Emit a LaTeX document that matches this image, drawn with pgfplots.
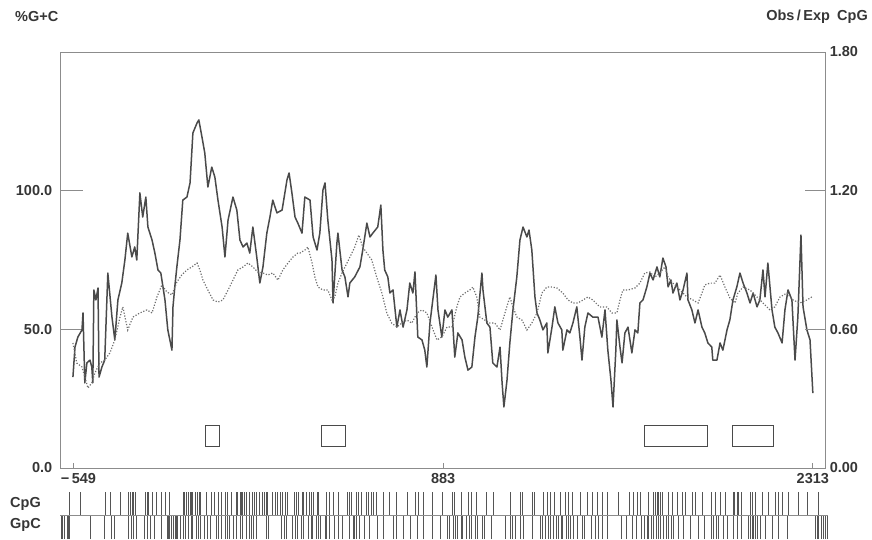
\documentclass[border=0pt]{standalone}
\usepackage{fontspec}
\setmainfont{Liberation Sans}
\usepackage{pgfplots}
\pgfplotsset{compat=1.18}
\definecolor{txt}{HTML}{363636}
\definecolor{axc}{HTML}{8C8C8C}
\definecolor{gcc}{HTML}{4A4A4A}
\definecolor{oec}{HTML}{6E6E6E}
\definecolor{stc}{HTML}{555555}
\definecolor{boxc}{HTML}{4A4A4A}
\tikzset{lab/.style={font=\fontsize{14.5}{17}\selectfont\bfseries, text=txt}}
\begin{document}
\begin{tikzpicture}
\useasboundingbox (0pt,0pt) rectangle (872pt,539pt);
% ---------- main axis: % G+C (left scale) ----------
\begin{axis}[
  at={(60pt,71pt)}, anchor=south west, width=765pt, height=416pt, scale only axis,
  xmin=-599, xmax=2360, ymin=0, ymax=150,
  axis line style={axc, line width=0.8pt},
  xtick=\empty,
  ytick={0,50,100}, yticklabels={0.0,50.0,100.0}, ytick pos=left,
  tick align=inside, major tick length=23pt,
  tick style={axc, line width=0.8pt},
  yticklabel style={lab, xshift=-4.3pt},
]
\addplot[gcc, line width=1.5pt, line join=round, mark=none] coordinates {
(-549,32.8) (-541,43.6) (-530,47.2) (-514,49.8) (-510,55.9) (-503,30.7) (-495,37.9) (-483,38.9)
(-476,36.4) (-472,30.7) (-468,64.2) (-460,60.6) (-452,64.9) (-448,32.8) (-437,36.4) (-426,38.9)
(-414,70.3) (-398,54.4) (-387,46.2) (-375,60.6) (-360,66.7) (-348,75.0) (-337,84.7) (-321,76.1)
(-310,79.7) (-302,75.0) (-290,99.2) (-279,90.5) (-267,97.7) (-259,86.9) (-243,82.2) (-232,77.5)
(-220,71.4) (-209,70.3) (-193,60.6) (-182,49.8) (-166,42.5) (-162,58.1) (-155,65.3) (-147,72.5)
(-135,82.2) (-124,96.6) (-108,97.7) (-96,102.8) (-85,120.8) (-69,124.4) (-62,125.5) (-50,119.4)
(-39,113.6) (-27,101.3) (-12,108.5) (0,104.9) (12,96.6) (28,86.9) (39,76.1) (51,89.4)
(70,97.7) (85,93.0) (97,82.2) (109,79.7) (124,81.1) (135,77.5) (147,86.9) (162,76.1)
(174,66.7) (186,72.5) (201,84.7) (213,90.5) (224,96.6) (240,92.0) (260,93.0) (279,103.9)
(287,106.4) (298,99.2) (310,90.5) (321,88.3) (337,84.7) (348,97.7) (368,96.6) (380,83.3)
(395,78.6) (406,84.7) (418,100.2) (426,102.8) (437,89.4) (453,75.0) (457,59.5) (472,81.1)
(476,84.7) (492,71.4) (503,68.9) (515,61.7) (522,66.7) (541,68.9) (561,72.5) (572,78.6)
(588,88.3) (600,83.3) (611,84.7) (630,86.9) (642,94.8) (650,78.6) (657,71.4) (669,68.9)
(677,63.1) (689,64.2) (704,50.8) (716,57.0) (728,50.8) (743,57.0) (754,66.7) (766,63.1)
(774,70.7) (785,47.2) (801,46.2) (812,42.5) (820,36.4) (832,52.3) (843,60.6) (855,69.6)
(863,57.0) (878,47.2) (890,57.0) (901,54.4) (917,57.0) (928,40.0) (940,48.7) (956,46.2)
(967,40.0) (979,35.3) (994,36.4) (1006,47.2) (1017,54.4) (1033,70.3) (1037,64.2) (1052,52.3)
(1064,50.8) (1075,37.9) (1091,36.4) (1103,43.6) (1111,30.7) (1118,22.0) (1130,31.7) (1141,45.1)
(1153,57.0) (1168,68.9) (1180,82.2) (1192,86.9) (1207,83.3) (1215,85.8) (1226,78.6) (1238,61.7)
(1246,55.9) (1257,53.4) (1269,49.8) (1284,52.3) (1288,41.5) (1304,50.8) (1315,58.1) (1327,52.3)
(1342,49.8) (1346,42.5) (1362,49.8) (1373,48.7) (1385,52.3) (1400,58.1) (1412,47.2) (1420,38.9)
(1431,50.8) (1443,55.9) (1462,54.4) (1482,54.4) (1497,47.2) (1509,57.0) (1520,42.5) (1532,31.7)
(1540,22.0) (1551,42.5) (1555,53.4) (1567,43.6) (1575,37.9) (1586,48.7) (1598,50.8) (1613,41.5)
(1625,49.8) (1636,48.7) (1644,59.5) (1656,60.6) (1671,65.3) (1683,70.3) (1695,67.8) (1710,72.5)
(1721,68.9) (1733,75.7) (1745,72.5) (1753,65.3) (1764,67.8) (1772,63.1) (1787,66.7) (1799,60.6)
(1811,64.2) (1826,70.3) (1830,60.6) (1845,57.0) (1857,52.3) (1869,57.0) (1884,50.8) (1895,48.7)
(1907,45.1) (1922,43.6) (1926,38.9) (1942,38.9) (1954,45.1) (1965,42.5) (1981,49.8) (1992,53.4)
(2004,60.6) (2019,65.3) (2031,70.3) (2043,66.7) (2058,63.1) (2070,59.5) (2082,63.1) (2097,58.1)
(2108,60.6) (2120,71.4) (2128,61.7) (2139,73.9) (2155,57.0) (2166,50.8) (2178,48.7) (2194,45.1)
(2205,57.0) (2217,64.2) (2232,60.6) (2244,38.9) (2255,54.4) (2267,84.0) (2275,58.1) (2290,49.8)
(2302,46.2) (2313,27.0)
};
% CpG island boxes
\addplot[boxc, line width=0.9pt, mark=none, line join=miter] coordinates {(-35,7.6) (19,7.6) (19,15.5) (-35,15.5) (-35,7.6)};
\addplot[boxc, line width=0.9pt, mark=none, line join=miter] coordinates {(414,7.6) (507,7.6) (507,15.5) (414,15.5) (414,7.6)};
\addplot[boxc, line width=0.9pt, mark=none, line join=miter] coordinates {(1663,7.6) (1907,7.6) (1907,15.5) (1663,15.5) (1663,7.6)};
\addplot[boxc, line width=0.9pt, mark=none, line join=miter] coordinates {(2003,7.6) (2162,7.6) (2162,15.5) (2003,15.5) (2003,7.6)};
\end{axis}
% ---------- right axis: Obs/Exp CpG ----------
\begin{axis}[
  at={(60pt,71pt)}, anchor=south west, width=765pt, height=416pt, scale only axis,
  xmin=-599, xmax=2360, ymin=0, ymax=1.8,
  axis x line=none, axis y line*=right,
  axis line style={axc, line width=0.8pt, -},
  xtick=\empty,
  ytick={0,0.6,1.2,1.8}, yticklabels={0.00,0.60,1.20,1.80}, ytick pos=right,
  tick align=inside, major tick length=20pt,
  tick style={axc, line width=0.8pt},
  yticklabel style={lab, xshift=1.3pt},
]
\addplot[oec, line width=1.2pt, dash pattern=on 1.2pt off 1.7pt, mark=none] coordinates {
(-549,0.541) (-534,0.454) (-514,0.437) (-503,0.394) (-491,0.346) (-476,0.368) (-464,0.411) (-445,0.454)
(-426,0.467) (-406,0.498) (-387,0.554) (-367,0.653) (-356,0.697) (-337,0.597) (-317,0.653) (-290,0.671)
(-263,0.684) (-243,0.671) (-224,0.740) (-205,0.792) (-186,0.762) (-166,0.749) (-147,0.805) (-128,0.835)
(-108,0.857) (-89,0.870) (-69,0.887) (-58,0.857) (-46,0.813) (-27,0.770) (-7,0.727) (12,0.718)
(31,0.727) (51,0.770) (70,0.813) (89,0.857) (109,0.870) (128,0.887) (147,0.870) (166,0.848)
(186,0.844) (205,0.835) (224,0.844) (244,0.813) (263,0.857) (283,0.887) (302,0.913) (321,0.930)
(329,0.930) (348,0.943) (360,0.956) (376,0.887) (387,0.826) (399,0.783) (418,0.770) (437,0.770)
(453,0.727) (464,0.740) (476,0.800) (492,0.844) (511,0.887) (530,0.930) (541,0.956) (557,1.008)
(572,0.956) (588,0.930) (607,0.900) (626,0.826) (646,0.757) (665,0.671) (684,0.627) (704,0.610)
(723,0.627) (743,0.640) (762,0.627) (782,0.671) (801,0.684) (820,0.671) (840,0.610) (859,0.554)
(878,0.567) (898,0.610) (917,0.610) (936,0.697) (948,0.740) (967,0.757) (986,0.770) (998,0.783)
(1013,0.740) (1025,0.653) (1044,0.640) (1064,0.627) (1083,0.627) (1103,0.597) (1122,0.671) (1141,0.740)
(1153,0.697) (1168,0.653) (1188,0.640) (1207,0.597) (1226,0.627) (1246,0.671) (1265,0.757) (1284,0.783)
(1304,0.783) (1323,0.779) (1346,0.757) (1366,0.727) (1385,0.714) (1404,0.714) (1424,0.727) (1443,0.740)
(1462,0.727) (1489,0.697) (1516,0.697) (1536,0.671) (1555,0.671) (1567,0.727) (1578,0.770) (1598,0.770)
(1625,0.779) (1644,0.800) (1663,0.844) (1683,0.848) (1702,0.826) (1721,0.844) (1741,0.870) (1753,0.826)
(1772,0.800) (1799,0.770) (1826,0.740) (1849,0.727) (1869,0.714) (1884,0.757) (1895,0.792) (1915,0.800)
(1934,0.800) (1954,0.835) (1973,0.783) (1992,0.736) (2012,0.714) (2023,0.757) (2043,0.783) (2070,0.770)
(2097,0.740) (2120,0.714) (2147,0.684) (2166,0.697) (2186,0.740) (2213,0.757) (2236,0.727) (2263,0.714)
(2290,0.727) (2309,0.740)
};
\end{axis}
% ---------- x ticks ----------
\begin{axis}[
  at={(60pt,71pt)}, anchor=south west, width=765pt, height=416pt, scale only axis,
  xmin=-599, xmax=2360, ymin=0, ymax=1,
  axis x line*=bottom, axis y line=none,
  axis line style={draw=none},
  xtick={-549,883,2313},
  xticklabels={\makebox[0pt][l]{\hspace{-12pt}−\,549},883,2313},
  ytick=\empty,
  tick align=inside, major tick length=5pt,
  tick style={axc, line width=0.8pt},
  xticklabel style={lab, yshift=-1.5pt},
]
\addplot[draw=none, mark=none] coordinates {(0,0.5)};
\end{axis}
% ---------- CpG strip ----------
\begin{axis}[
  at={(60pt,24pt)}, anchor=south west, width=768pt, height=23pt, scale only axis,
  xmin=-599, xmax=2371, ymin=0, ymax=1, hide axis, clip=false,
]
\addplot[ycomb, stc, line width=0.95pt, mark=none] coordinates {
(-561,1) (-518,1) (-422,1) (-402,1) (-364,1) (-333,1) (-325,1) (-317,1) (-314,1) (-306,1) (-267,1) (-259,1)
(-255,1) (-243,1) (-224,1) (-205,1) (-193,1) (-174,1) (-123,1) (-116,1) (-108,1) (-104,1) (-96,1) (-89,1)
(-85,1) (-77,1) (-69,1) (-61,1) (-54,1) (-31,1) (-15,1) (0,1) (12,1) (27,1) (39,1) (50,1) (66,1) (85,1)
(89,1) (97,1) (104,1) (108,1) (116,1) (124,1) (135,1) (147,1) (154,1) (162,1) (174,1) (185,1) (193,1)
(201,1) (205,1) (224,1) (236,1) (243,1) (255,1) (263,1) (274,1) (282,1) (309,1) (317,1) (325,1) (337,1)
(344,1) (356,1) (364,1) (375,1) (383,1) (395,1) (402,1) (433,1) (445,1) (457,1) (476,1) (511,1) (519,1)
(530,1) (549,1) (557,1) (568,1) (588,1) (595,1) (607,1) (615,1) (626,1) (650,1) (677,1) (704,1) (743,1)
(774,1) (786,1) (805,1) (840,1) (882,1) (917,1) (928,1) (952,1) (982,1) (994,1) (1013,1) (1052,1) (1079,1)
(1142,1) (1180,1) (1188,1) (1227,1) (1234,1) (1269,1) (1285,1) (1296,1) (1315,1) (1335,1) (1354,1) (1369,1)
(1381,1) (1412,1) (1439,1) (1462,1) (1478,1) (1497,1) (1520,1) (1559,1) (1605,1) (1617,1) (1636,1) (1644,1)
(1675,1) (1695,1) (1702,1) (1710,1) (1714,1) (1722,1) (1729,1) (1753,1) (1768,1) (1787,1) (1807,1) (1818,1)
(1845,1) (1857,1) (1884,1) (1922,1) (1934,1) (1957,1) (1973,1) (2004,1) (2011,1) (2019,1) (2023,1) (2038,1)
(2070,1) (2078,1) (2089,1) (2116,1) (2140,1) (2167,1) (2178,1) (2194,1) (2217,1) (2256,1) (2290,1) (2333,1)
};
\end{axis}
% ---------- GpC strip ----------
\begin{axis}[
  at={(60pt,0pt)}, anchor=south west, width=768pt, height=24pt, scale only axis,
  xmin=-599, xmax=2371, ymin=0, ymax=1, hide axis, clip=false,
]
\addplot[ycomb, stc, line width=0.95pt, mark=none] coordinates {
(-592,1) (-588,1) (-580,1) (-572,1) (-568,1) (-561,1) (-483,1) (-426,1) (-399,1) (-387,1) (-333,1) (-321,1)
(-314,1) (-302,1) (-271,1) (-259,1) (-251,1) (-232,1) (-205,1) (-185,1) (-181,1) (-174,1) (-166,1) (-162,1)
(-154,1) (-147,1) (-143,1) (-135,1) (-123,1) (-112,1) (-104,1) (-92,1) (-85,1) (-73,1) (-65,1) (-54,1)
(-39,1) (-27,1) (-19,1) (8,1) (15,1) (27,1) (39,1) (50,1) (58,1) (70,1) (85,1) (97,1) (108,1) (124,1)
(135,1) (143,1) (151,1) (162,1) (201,1) (208,1) (259,1) (270,1) (278,1) (301,1) (313,1) (321,1) (333,1)
(341,1) (360,1) (372,1) (379,1) (391,1) (399,1) (410,1) (426,1) (433,1) (445,1) (464,1) (476,1) (495,1)
(522,1) (534,1) (541,1) (549,1) (561,1) (580,1) (599,1) (630,1) (650,1) (692,1) (704,1) (728,1) (755,1)
(782,1) (805,1) (840,1) (871,1) (898,1) (909,1) (921,1) (932,1) (940,1) (952,1) (959,1) (971,1) (986,1)
(994,1) (1006,1) (1017,1) (1033,1) (1044,1) (1071,1) (1122,1) (1142,1) (1149,1) (1161,1) (1180,1) (1192,1)
(1227,1) (1258,1) (1265,1) (1277,1) (1289,1) (1296,1) (1308,1) (1319,1) (1327,1) (1339,1) (1346,1) (1358,1)
(1366,1) (1377,1) (1385,1) (1404,1) (1420,1) (1431,1) (1455,1) (1470,1) (1482,1) (1497,1) (1520,1) (1574,1)
(1593,1) (1613,1) (1632,1) (1651,1) (1663,1) (1671,1) (1675,1) (1687,1) (1695,1) (1706,1) (1714,1) (1722,1)
(1733,1) (1745,1) (1753,1) (1764,1) (1772,1) (1791,1) (1811,1) (1838,1) (1869,1) (1895,1) (1922,1) (1930,1)
(1938,1) (1946,1) (1965,1) (1984,1) (2004,1) (2019,1) (2038,1) (2062,1) (2070,1) (2078,1) (2082,1) (2089,1)
(2097,1) (2109,1) (2128,1) (2155,1) (2178,1) (2213,1) (2321,1) (2329,1) (2336,1) (2344,1) (2352,1) (2360,1)
(2368,1)
};
\addplot[axc, line width=0.8pt, mark=none] coordinates {(-599,1) (2371,1)};
\end{axis}
% ---------- titles and strip labels ----------
\node[lab, anchor=west, inner sep=0pt] at (15pt,522pt) {\%G+C};
\node[lab, anchor=east, inner sep=0pt] at (868pt,522pt) {Obs\,/\,Exp\enspace CpG};
\node[lab, anchor=west, inner sep=0pt] at (10pt,35pt) {CpG};
\node[lab, anchor=west, inner sep=0pt] at (10pt,14pt) {GpC};
\end{tikzpicture}
\end{document}
